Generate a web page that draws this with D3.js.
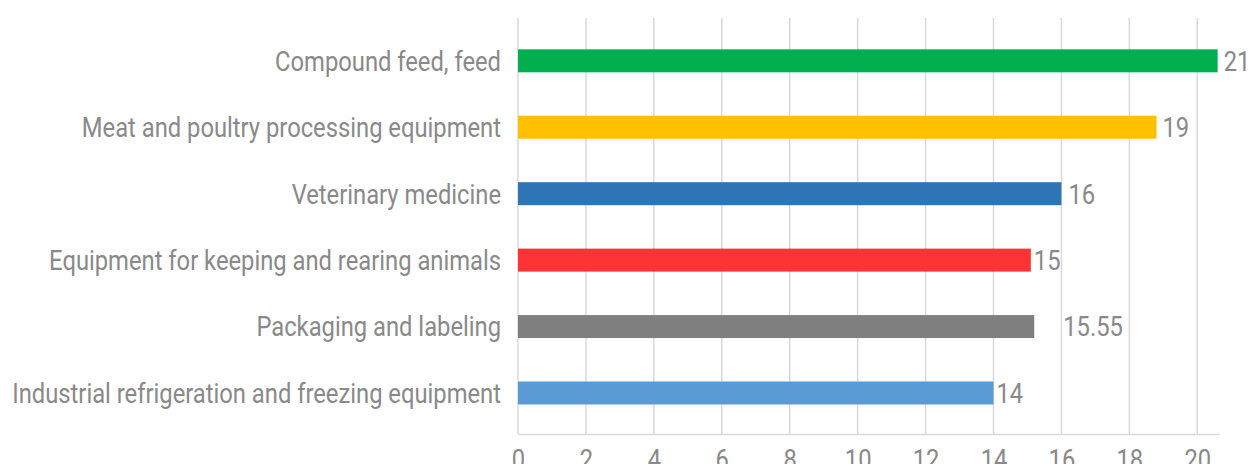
<!DOCTYPE html>
<html>
<head>
<meta charset="utf-8">
<script src="https://cdn.jsdelivr.net/npm/d3@7"></script>
<style>
  body { margin: 0; background: #fff; }
  svg text { font-family: Roboto, "Noto Sans", sans-serif; fill: #898989; }
</style>
</head>
<body>
<svg width="1251" height="464"></svg>
<script>
"use strict";

const categories = [
  "Compound feed, feed",
  "Meat and poultry processing equipment",
  "Veterinary medicine",
  "Equipment for keeping and rearing animals",
  "Packaging and labeling",
  "Industrial refrigeration and freezing equipment"
];
const values = [20.6, 18.8, 16.0, 15.1, 15.2, 14.0];
const valueLabels = ["21", "19", "16", "15", "15.55", "14"];
const barColors = ["#00B050", "#FFC000", "#2E75B6", "#FF3333", "#7F7F7F", "#5B9BD5"];
const xTicks = [0, 2, 4, 6, 8, 10, 12, 14, 16, 18, 20];

const svg = d3.select("svg");
const fontSize = 27.5;

const xScale = d3.scaleLinear().domain([0, 20.64]).range([518, 1219]);
const yScale = d3
  .scaleBand()
  .domain(categories)
  .range([27.6, 426.2])
  .paddingInner(0.654)
  .paddingOuter(0.327);

const plotTop = 18;
const plotBottom = 434;

// the original uses a narrow font: squeeze Roboto so the longest label is ~489px
const probe = svg.append("text").attr("font-size", fontSize).text(categories[5]);
const squeeze = 489 / probe.node().getComputedTextLength();
probe.remove();

const cy = c => yScale(c) + yScale.bandwidth() / 2;

// vertical gridlines
svg.append("g")
  .selectAll("line")
  .data(xTicks)
  .enter()
  .append("line")
  .attr("x1", d => xScale(d))
  .attr("x2", d => xScale(d))
  .attr("y1", plotTop)
  .attr("y2", plotBottom)
  .attr("stroke", "#d9d9d9")
  .attr("stroke-width", 1.5);

// axis
const xAxis = d3.axisBottom(xScale).tickValues(xTicks).tickSize(0).tickPadding(15);
const xAxisG = svg.append("g")
  .attr("transform", `translate(0,${plotBottom})`)
  .call(xAxis);
xAxisG.select(".domain").attr("stroke", "#d9d9d9").attr("stroke-width", 1.5);
xAxisG.selectAll(".tick text")
  .attr("font-size", fontSize)
  .attr("font-family", null)
  .attr("fill", null)
  .attr("transform", `scale(${squeeze},1)`);

// bars
svg.append("g")
  .selectAll("rect")
  .data(values)
  .enter()
  .append("rect")
  .attr("x", xScale(0))
  .attr("y", (d, i) => yScale(categories[i]))
  .attr("width", d => xScale(d) - xScale(0))
  .attr("height", yScale.bandwidth())
  .attr("fill", (d, i) => barColors[i]);

// category labels
svg.append("g")
  .selectAll("text")
  .data(categories)
  .enter()
  .append("text")
  .attr("transform", d => `translate(501,${cy(d)}) scale(${squeeze},1)`)
  .attr("dy", "0.36em")
  .attr("text-anchor", "end")
  .attr("font-size", fontSize)
  .text(d => d);

// value labels (the 15.55 one sits further out, as in the original)
const labelGap = [6, 6, 7, 3, 29, 3];
svg.append("g")
  .selectAll("text")
  .data(values)
  .enter()
  .append("text")
  .attr("transform", (d, i) => `translate(${xScale(d) + labelGap[i]},${cy(categories[i])}) scale(${squeeze},1)`)
  .attr("dy", "0.36em")
  .attr("font-size", fontSize)
  .text((d, i) => valueLabels[i]);
</script>
</body>
</html>
